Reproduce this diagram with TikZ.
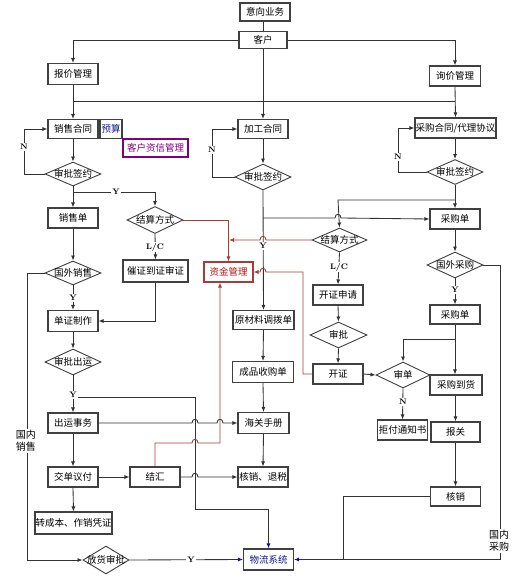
\documentclass[tikz,border=0pt]{standalone}
\usepackage{fontspec}
\newfontfamily\cjk{Noto Sans CJK SC}
\usetikzlibrary{shapes.geometric,arrows.meta}
\definecolor{ln}{RGB}{50,50,50}
\definecolor{rl}{RGB}{165,60,60}
\definecolor{zjc}{RGB}{170,20,20}
\definecolor{pur}{RGB}{128,0,128}
\definecolor{nvy}{RGB}{20,20,140}
\tikzset{
 base/.style={font=\cjk\fontsize{9.5}{11}\selectfont, inner sep=0pt, fill=white},
 box/.style={base, draw=black!75, line width=1.1pt, rectangle},
 dia/.style={base, draw=black!75, line width=0.9pt, diamond},
 lbl/.style={font=\fontsize{8}{9}\selectfont\bfseries, inner sep=1pt, fill=white},
 side/.style={font=\cjk\fontsize{10}{12}\selectfont, align=center, inner sep=1pt, fill=white},
 con/.style={draw=ln, line width=0.85pt},
 arr/.style={con, -{Latex[length=5pt,width=4pt]}},
 rarr/.style={draw=rl, line width=0.85pt, -{Latex[length=5pt,width=4pt]}},
 barr/.style={con, -{Latex[length=5pt,width=4pt,color=nvy]}},
}
\begin{document}
\begin{tikzpicture}[x=1pt,y=-1pt]
\useasboundingbox[fill=white] (0,0) rectangle (530,580);
% ---- nodes ----
\node[box, minimum width=50, minimum height=18] (yx) at (265,12) {意向业务};
\node[box, minimum width=48, minimum height=17] (kh) at (263,40) {客户};
\node[box, minimum width=50, minimum height=21] (bj) at (73,74) {报价管理};
\node[box, minimum width=51, minimum height=20] (xj) at (455,76) {询价管理};
\node[box, minimum width=50, minimum height=19] (xsht) at (73,129) {销售合同};
\node[box, minimum width=22, minimum height=19, text=nvy] (ys) at (111,129) {预算};
\node[box, minimum width=65, minimum height=18, draw=pur, text=pur] (zx) at (155.5,148) {客户资信管理};
\node[box, minimum width=50, minimum height=19] (jght) at (263,129) {加工合同};
\node[box, minimum width=81, minimum height=20] (cght) at (455.5,128) {采购合同/代理协议};
\node[dia, minimum width=56, minimum height=24] (sp1) at (73,174) {\makebox[0pt]{审批签约}};
\node[dia, minimum width=56, minimum height=26] (sp2) at (263,177) {\makebox[0pt]{审批签约}};
\node[dia, minimum width=56, minimum height=25] (sp3) at (455,172) {\makebox[0pt]{审批签约}};
\node[box, minimum width=50, minimum height=20] (xsd) at (73,218) {销售单};
\node[dia, minimum width=56, minimum height=27] (js1) at (155,220) {\makebox[0pt]{结算方式}};
\node[box, minimum width=65, minimum height=22] (cz) at (155.5,271) {催证到证审证};
\node[box, minimum width=49, minimum height=20, draw=rl, text=zjc] (zj) at (228.5,272) {资金管理};
\node[dia, minimum width=56, minimum height=24] (gwxs) at (73,273) {\makebox[0pt]{国外销售}};
\node[box, minimum width=50, minimum height=21] (dz) at (73,321) {单证制作};
\node[dia, minimum width=56, minimum height=26] (spcy) at (73,362) {\makebox[0pt]{审批出运}};
\node[box, minimum width=50, minimum height=20] (cy) at (73,423) {出运事务};
\node[box, minimum width=50, minimum height=20] (jd) at (73,477) {交单议付};
\node[box, minimum width=50, minimum height=20] (jh) at (155,477) {结汇};
\node[box, minimum width=77, minimum height=22] (zcb) at (73.5,523) {转成本、作销凭证};
\node[dia, minimum width=46, minimum height=28] (fh) at (106,560) {\makebox[0pt]{放货审批}};
\node[box, minimum width=50, minimum height=21, text=nvy] (wl) at (268.5,559.5) {物流系统};
\node[box, minimum width=61, minimum height=19] (ycl) at (263.5,320) {原材料调拨单};
\node[box, minimum width=61, minimum height=21] (cp) at (263,372) {成品收购单};
\node[box, minimum width=51, minimum height=21] (hgsc) at (263.5,423) {海关手册};
\node[box, minimum width=50, minimum height=20] (hx1) at (263,477) {核销、退税};
\node[dia, minimum width=55, minimum height=24] (js2) at (339.5,240) {\makebox[0pt]{结算方式}};
\node[box, minimum width=50, minimum height=20] (kzsq) at (338,295) {开证申请};
\node[dia, minimum width=57, minimum height=26] (sp4) at (338.5,335) {\makebox[0pt]{审批}};
\node[box, minimum width=50, minimum height=20] (kz) at (338,374) {开证};
\node[dia, minimum width=54, minimum height=26] (sd) at (403,375) {\makebox[0pt]{审单}};
\node[box, minimum width=50, minimum height=20] (jf) at (402.5,430) {拒付通知书};
\node[box, minimum width=50, minimum height=20] (cgd1) at (455,219) {采购单};
\node[dia, minimum width=56, minimum height=26] (gwcg) at (455,265) {\makebox[0pt]{国外采购}};
\node[box, minimum width=50, minimum height=19] (cgd2) at (455,314.5) {采购单};
\node[box, minimum width=52, minimum height=20] (cgdh) at (456,385) {采购到货};
\node[box, minimum width=49, minimum height=20] (bg) at (455.5,432) {报关};
\node[box, minimum width=50, minimum height=19] (hx2) at (455.5,496.5) {核销};
% ---- connectors ----
\draw[con] (yx.south -| kh) -- (kh.north);
\draw[arr] (kh.west) -| (bj.north);
\draw[arr] (kh.east) -| (xj.north);
\draw[arr] (kh.south) -- (jght.north);
\draw[con] (73,101) -- (455,101);
\draw[arr] (bj.south) -- (xsht.north);
\draw[arr] (xj.south) -- (cght.north);
% left column
\draw[arr] (xsht.south) -- (sp1.north);
\draw[arr] (sp1.west) -- (24,174) |- (xsht.west);
\draw[arr] (sp1.south) -- (xsd.north);
\draw[arr] (73,192) -| (js1.north);
\draw[rarr] (js1.east) -| (zj.north);
\draw[arr] (js1.south) -- (cz.north);
\draw[arr] (cz.south) |- (dz.east);
\draw[arr] (xsd.south) -- (gwxs.north);
\draw[arr] (gwxs.south) -- (dz.north);
\draw[arr] (gwxs.west) -- (27,273) |- (fh.west);
\draw[arr] (dz.south) -- (spcy.north);
\draw[arr] (spcy.south) -- (cy.north);
\draw[barr] (73,397) -- (195,397) -- (195,509) -| (wl.north);
\draw[arr] (cy.east) -- (192,423) .. controls (192,418) and (198,418) .. (198,423) -- (217,423) .. controls (217,418) and (223,418) .. (223,423) -- (hgsc.west);
\draw[arr] (cy.south) -- (jd.north);
\draw[arr] (jd.east) -- (jh.west);
\draw[arr] (jd.south) -- (zcb.north);
\draw[arr] (jh.east) -- (192,477) .. controls (192,472) and (198,472) .. (198,477) -- (hx1.west);
\draw[rarr] (jh.north) -- (155,443) -- (192,443) .. controls (192,438) and (198,438) .. (198,443) -- (220,443) -- (220,443 |- zj.south);
\draw[barr] (fh.east) -- (wl.west);
% middle column
\draw[arr] (jght.south) -- (sp2.north);
\draw[arr] (sp2.west) -- (212,177) |- (jght.west);
\draw[arr] (sp2.south) -- (ycl.north);
\draw[arr] (263,218) -- (335,218) .. controls (335,213) and (341,213) .. (341,218) -- (cgd1.west);
\draw[arr] (455,200) -- (338,200) -- (js2.north);
\draw[rarr] (js2.west) -- (266,240) .. controls (266,235) and (260,235) .. (260,240) -- (229,240);
\draw[arr] (js2.south) -- (kzsq.north);
\draw[arr] (kzsq.south) -- (sp4.north);
\draw[arr] (sp4.south) -- (kz.north);
\draw[rarr] (kz.west) -- (303,374) -- (303,272) -- (266,272) .. controls (266,267) and (260,267) .. (260,272) -- (zj.east);
\draw[arr] (kz.east) -- (sd.west);
\draw[arr] (sd.south) -- (jf.north);
\draw[arr] (ycl.south) -- (cp.north);
\draw[arr] (cp.south) -- (hgsc.north);
\draw[arr] (hgsc.south) -- (hx1.north);
% right column
\draw[arr] (cght.south -| sp3) -- (sp3.north);
\draw[arr] (sp3.west) -- (398,172) |- (cght.west);
\draw[arr] (sp3.south) -- (cgd1.north);
\draw[arr] (cgd1.south) -- (gwcg.north);
\draw[arr] (gwcg.south) -- (cgd2.north);
\draw[barr] (gwcg.east) -- (500,265) |- (wl.east);
\draw[arr] (cgd2.south) -- (cgdh.north -| cgd2);
\draw[arr] (455,339) -- (403,339) -- (sd.north);
\draw[arr] (cgdh.south -| bg) -- (bg.north);
\draw[arr] (bg.south) -- (hx2.north);
\draw[con] (hx2.west) -- (343,496.5) -- (343,560);
% ---- labels ----
\node[lbl] (n1) at (24,147) {N};
\node[lbl] (n2) at (212,150) {N};
\node[lbl] (n3) at (398,157) {N};
\node[lbl] (n4) at (403,402) {N};
\node[lbl] (y1) at (116,192) {Y};
\node[lbl] (y2) at (73,298) {Y};
\node[lbl] (y3) at (73,395) {Y};
\node[lbl] (y4) at (263,246) {Y};
\node[lbl] (y5) at (455,290) {Y};
\node[lbl] (y6) at (191,560) {Y};
\node[lbl] (lc1) at (155,247) {L/C};
\node[lbl] (lc2) at (339,267) {L/C};
\node[side] (gnxs) at (26,441) {国内\\销售};
\node[side] (gncg) at (499,541) {国内\\采购};
\end{tikzpicture}
\end{document}
